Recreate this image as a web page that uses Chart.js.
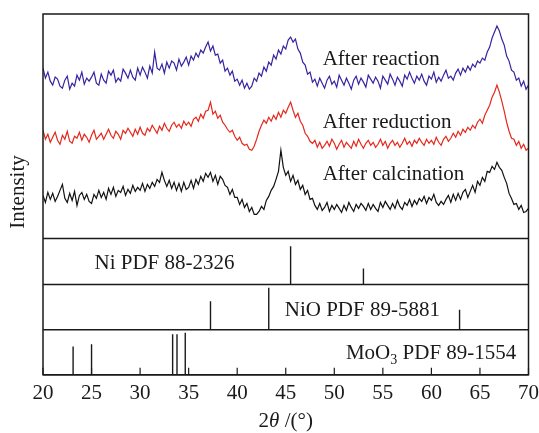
<!DOCTYPE html>
<html>
<head>
<meta charset="utf-8">
<script src="https://cdn.jsdelivr.net/npm/chart.js@4/dist/chart.umd.min.js"></script>
<style>
body{margin:0;background:#fff;}
</style>
</head>
<body>
<canvas id="xrd" width="539" height="433"></canvas>
<script>

// 2theta grid of the measured scans
let angleStart = 20;
let angleStep = 0.25;

// scans, intensity in a.u. (already offset for stacking)
let afterReaction = [
170,160,166,157, 153,161,159,152, 150,158,162,149, 155,152,163,158, 166,154,160,157,
161,166,155,153, 164,158,155,167, 163,168,156,160, 157,169,165,160, 168,161,158,170,
163,171,166,160, 172,165,186,170, 168,174,165,176, 170,177,175,168, 179,172,176,181,
173,182,178,185, 181,188,185,191, 196,187,192,183, 184,175,178,167, 170,163,167,157,
159,153,158,150, 155,149,152,160, 157,165,162,171, 167,176,173,183, 179,188,184,192,
189,198,201,196, 199,189,185,176, 173,164,166,156, 159,152,160,155, 150,158,162,154,
157,151,163,158, 153,160,155,149, 158,162,154,160, 156,151,163,159, 155,161,157,150,
162,158,154,164, 159,153,161,157, 152,163,159,166, 160,155,162,158, 164,157,153,162,
159,166,156,161, 157,163,168,160, 162,158,165,169, 163,170,166,172, 168,174,171,177,
175,180,178,186, 191,200,206,212, 207,199,193,182, 177,168,166,158, 160,152,157,149,
153
];

let afterReduction = [
108,99,104,96, 101,106,98,94, 103,99,107,97, 95,102,100,106, 98,104,101,96,
103,108,99,102, 105,99,104,109, 103,100,107,104, 99,108,105,110, 106,102,109,104,
111,105,103,110, 107,113,109,105, 112,108,115,110, 107,113,116,111, 114,110,117,113,
116,112,119,121, 117,124,120,127, 128,136,124,127, 120,123,116,113, 109,106,108,102,
98,101,95,93, 94,89,88,92, 99,107,113,118, 115,121,117,123, 119,126,121,128,
125,131,136,128, 121,125,117,113, 105,102,97,95, 98,91,96,90, 93,97,92,99,
95,89,94,98, 91,96,93,90, 97,92,99,94, 90,95,98,93, 96,91,94,99,
93,97,90,95, 98,93,96,91, 95,100,94,97, 92,98,95,100, 96,93,99,95,
98,94,101,96, 93,99,102,97, 100,105,101,107, 103,109,106,111, 108,113,110,116,
119,115,123,128, 133,141,146,153, 146,137,127,116, 107,100,99,93, 97,90,94,88,
90
];

let afterCalcination = [
43,36,46,39, 45,37,42,48, 54,40,36,45, 38,47,33,43, 46,39,44,37,
35,44,40,48, 41,46,39,50, 44,51,42,48, 46,52,43,49, 45,53,47,51,
48,55,47,54, 50,56,52,59, 56,66,58,52, 58,50,56,48, 55,47,56,49,
51,58,50,59, 54,62,57,65, 61,66,57,63, 54,62,59,53, 51,44,49,41,
41,34,39,31, 35,27,31,24, 24,27,32,29, 38,42,48,52, 59,67,88,71,
63,67,57,63, 54,58,49,53, 44,48,39,40, 33,29,35,28, 31,36,27,33,
29,34,30,26, 33,28,36,31, 27,34,30,35, 32,28,35,29, 34,30,27,36,
31,37,33,29, 35,30,38,32, 29,36,33,39, 32,38,34,40, 37,42,35,41,
38,44,36,33, 37,34,39,43, 36,44,38,45, 39,46,49,41, 47,53,46,57,
53,61,57,67, 66,72,69,76, 71,68,61,55, 45,40,34,35, 29,33,26,27,
30
];

// reference patterns (2theta, relative intensity)
let niPos = [45.5, 53.0];
let niInt = [0.83, 0.35];
let nioPos = [37.25, 43.25, 62.9];
let nioInt = [0.63, 0.93, 0.44];
let mooPos = [23.1, 25.0, 33.35, 33.8, 34.65];
let mooInt = [0.63, 0.68, 0.9, 0.9, 0.93];

let xTicks = [20,25,30,35,40,45,50,55,60,65,70];

let serif = "'Liberation Serif', 'Times New Roman', serif";
let ink = "#1a1a1a";

function scan(values){
return values.map(function(v,i){
return {x: angleStart + i*angleStep, y: v};
});
}

function sticks(pos, inten){
let pts = [];
pos.forEach(function(p,i){
pts.push({x:p, y:0});
pts.push({x:p, y:inten[i]});
pts.push({x:p, y:null});
});
return pts;
}

function lineSet(data, color, axis, width){
return {
data: data,
borderColor: color,
borderWidth: width,
pointRadius: 0,
tension: 0,
spanGaps: false,
yAxisID: axis
};
}

function hiddenY(weight, max){
return {
type: 'linear',
position: 'left',
stack: 'xrd',
stackWeight: weight,
min: 0,
max: max,
ticks: {display: false},
grid: {display: false, drawTicks: false},
border: {display: false}
};
}

/* frames, inward ticks and texts */
let decorate = {
id: 'decorate',
afterDraw: function(chart){
let c = chart.ctx;
let xs = chart.scales.x;
let area = chart.chartArea;
let panels = [chart.scales.yTop, chart.scales.yNi, chart.scales.yNiO, chart.scales.yMo];

c.save();
c.strokeStyle = ink;
c.lineWidth = 1.5;
c.strokeRect(area.left, area.top, area.right - area.left, area.bottom - area.top);
panels.forEach(function(s){
c.beginPath();
c.moveTo(area.left, s.bottom);
c.lineTo(area.right, s.bottom);
c.stroke();
});

// ticks point inward from the bottom axis
c.lineWidth = 1.2;
xTicks.forEach(function(t){
let px = xs.getPixelForValue(t);
c.beginPath();
c.moveTo(px, area.bottom);
c.lineTo(px, area.bottom - 7);
c.stroke();
});

c.fillStyle = ink;
c.font = "21px " + serif;
c.textAlign = 'left';
c.textBaseline = 'alphabetic';

let yTop = chart.scales.yTop;
c.fillText("After reaction", xs.getPixelForValue(48.8), yTop.getPixelForValue(173));
c.fillText("After reduction", xs.getPixelForValue(48.8), yTop.getPixelForValue(110));
c.fillText("After calcination", xs.getPixelForValue(48.8), yTop.getPixelForValue(58));

c.fillText("Ni PDF 88-2326", xs.getPixelForValue(25.3), chart.scales.yNi.getPixelForValue(0.33));
c.fillText("NiO PDF 89-5881", xs.getPixelForValue(44.9), chart.scales.yNiO.getPixelForValue(0.31));

// MoO3 with subscript
let mx = xs.getPixelForValue(51.2);
let my = chart.scales.yMo.getPixelForValue(0.36);
c.fillText("MoO", mx, my);
mx += c.measureText("MoO").width;
c.font = "14px " + serif;
c.fillText("3", mx, my + 5);
mx += c.measureText("3").width;
c.font = "21px " + serif;
c.fillText(" PDF 89-1554", mx, my);

// axis titles
let cx = (area.left + area.right) / 2;
let parts = [["2","21px "],["\u03B8","italic 21px "],[" /(\u00B0)","21px "]];
let total = 0;
parts.forEach(function(p){ c.font = p[1] + serif; total += c.measureText(p[0]).width; });
let tx = cx - total/2;
parts.forEach(function(p){
c.font = p[1] + serif;
c.fillText(p[0], tx, 427);
tx += c.measureText(p[0]).width;
});

c.font = "21px " + serif;
c.translate(18, 192);
c.rotate(-Math.PI/2);
c.textAlign = 'center';
c.textBaseline = 'middle';
c.fillText("Intensity", 0, 0);
c.restore();
}
};

new Chart(document.getElementById('xrd'), {
type: 'line',
data: {
datasets: [
lineSet(scan(afterReaction), '#3524a0', 'yTop', 1.2),
lineSet(scan(afterReduction), '#e5281e', 'yTop', 1.2),
lineSet(scan(afterCalcination), '#111111', 'yTop', 1.2),
lineSet(sticks(niPos, niInt), ink, 'yNi', 1.4),
lineSet(sticks(nioPos, nioInt), ink, 'yNiO', 1.4),
lineSet(sticks(mooPos, mooInt), ink, 'yMo', 1.4)
]
},
options: {
responsive: false,
animation: false,
layout: {padding: {left: 43, top: 14, right: 0, bottom: 27}},
plugins: {legend: {display: false}, tooltip: {enabled: false}},
scales: {
x: {
type: 'linear',
min: 20,
max: 70,
afterBuildTicks: function(axis){
axis.ticks = xTicks.map(function(v){ return {value: v}; });
},
// label gap comes from tickLength so the side padding stays small
ticks: {font: {family: serif, size: 21}, color: ink, padding: 0, maxRotation: 0},
grid: {display: false, drawTicks: true, tickLength: 6},
border: {display: false}
},
// stacked panels: the first one listed sits at the bottom
yMo: hiddenY(45, 1),
yNiO: hiddenY(45, 1),
yNi: hiddenY(46, 1),
yTop: hiddenY(224, 224)
}
},
plugins: [decorate]
});

</script>
</body>
</html>
